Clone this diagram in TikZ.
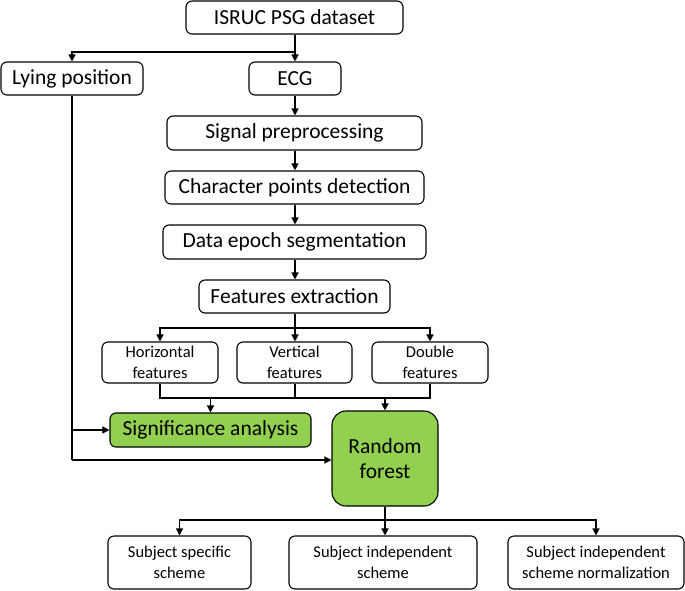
\documentclass[tikz,border=0pt]{standalone}
\usepackage{fontspec}
\setmainfont{Carlito}
\usetikzlibrary{arrows.meta}
\definecolor{boxgreen}{HTML}{92D050}
\tikzset{
  box/.style={draw=black, line width=1.1pt, rounded corners=6pt, fill=white, inner sep=0pt, align=center, font=\fontsize{21.5}{25}\selectfont},
  sbox/.style={box, font=\fontsize{16.5}{21}\selectfont},
  gbox/.style={box, fill=boxgreen},
  conn/.style={line width=1.3pt},
  arr/.style={conn, -{Triangle[length=7pt,width=7pt]}}
}
\begin{document}
\begin{tikzpicture}[x=1pt,y=-1pt]
\useasboundingbox (0,0) rectangle (685,590);
\node[box, minimum width=217pt, minimum height=33pt] (isruc) at (294.5,17.5) {ISRUC PSG dataset};
\node[box, minimum width=142pt, minimum height=33pt] (lying) at (72,78.5) {Lying position};
\node[box, minimum width=92pt, minimum height=33pt] (ecg) at (295,78.5) {ECG};
\node[box, minimum width=255pt, minimum height=34pt] (sig) at (294.5,133) {Signal preprocessing};
\node[box, minimum width=259pt, minimum height=33pt] (cha) at (294.5,187.5) {Character points detection};
\node[box, minimum width=263pt, minimum height=34pt] (dat) at (294.5,242) {Data epoch segmentation};
\node[box, minimum width=191pt, minimum height=33pt] (fea) at (294.5,296.5) {Features extraction};
\node[sbox, minimum width=116pt, minimum height=41pt] (hor) at (160,362.5) {Horizontal\\features};
\node[sbox, minimum width=115pt, minimum height=41pt] (ver) at (294.5,362.5) {Vertical\\features};
\node[sbox, minimum width=116pt, minimum height=41pt] (dou) at (430,362.5) {Double\\features};
\node[gbox, minimum width=201pt, minimum height=34pt] (sa) at (210.5,430) {Significance analysis};
\node[gbox, rounded corners=14pt, minimum width=106pt, minimum height=95pt] (rf) at (385,458.5) {Random\\forest};
\node[sbox, minimum width=143pt, minimum height=53pt] (s1) at (179.5,562.5) {Subject specific\\scheme};
\node[sbox, minimum width=188pt, minimum height=53pt] (s2) at (383,562.5) {Subject independent\\scheme};
\node[sbox, minimum width=176pt, minimum height=53pt] (s3) at (596,562.5) {Subject independent\\scheme normalization};

% top split
\coordinate (j1) at (295,52);
\coordinate (j1l) at (72,52);
\draw[conn] (isruc.south -| j1) -- (j1);
\draw[arr] (j1) -- (ecg.north -| j1);
\draw[arr] (j1) -- (j1l) -- (lying.north);
% chain
\draw[arr] (ecg.south) -- (sig.north -| ecg.south);
\draw[arr] (sig.south -| ecg.south) -- (cha.north -| ecg.south);
\draw[arr] (cha.south -| ecg.south) -- (dat.north -| ecg.south);
\draw[arr] (dat.south -| ecg.south) -- (fea.north -| ecg.south);
% features split
\coordinate (j2) at (295,328);
\draw[conn] (fea.south -| j2) -- (j2);
\draw[arr] (j2) -- (ver.north -| j2);
\draw[arr] (j2) -| (hor.north);
\draw[arr] (j2) -| (dou.north);
% merge
\coordinate (j3l) at (160,398);
\coordinate (j3r) at (430,398);
\draw[conn] (hor.south) -- (j3l) -- (j3r) -- (dou.south);
\draw[conn] (ver.south -| j2) -- (j2 |- j3l);
\draw[arr] (sa.north |- j3l) -- (sa.north);
\draw[arr] (rf.north |- j3l) -- (rf.north);
% lying position line
\coordinate (l1) at (72,430);
\coordinate (l2) at (72,460);
\draw[conn] (lying.south) -- (l2);
\draw[arr] (l1) -- (sa.west);
\draw[arr] (l2) -- (rf.west |- l2);
% bottom split
\coordinate (j4) at (385,520);
\draw[conn] (rf.south) -- (j4);
\draw[arr] (j4) -| (s1.north);
\draw[arr] (j4) -| (s3.north);
\draw[arr] (j4) -- (j4 |- s2.north);
\end{tikzpicture}
\end{document}
